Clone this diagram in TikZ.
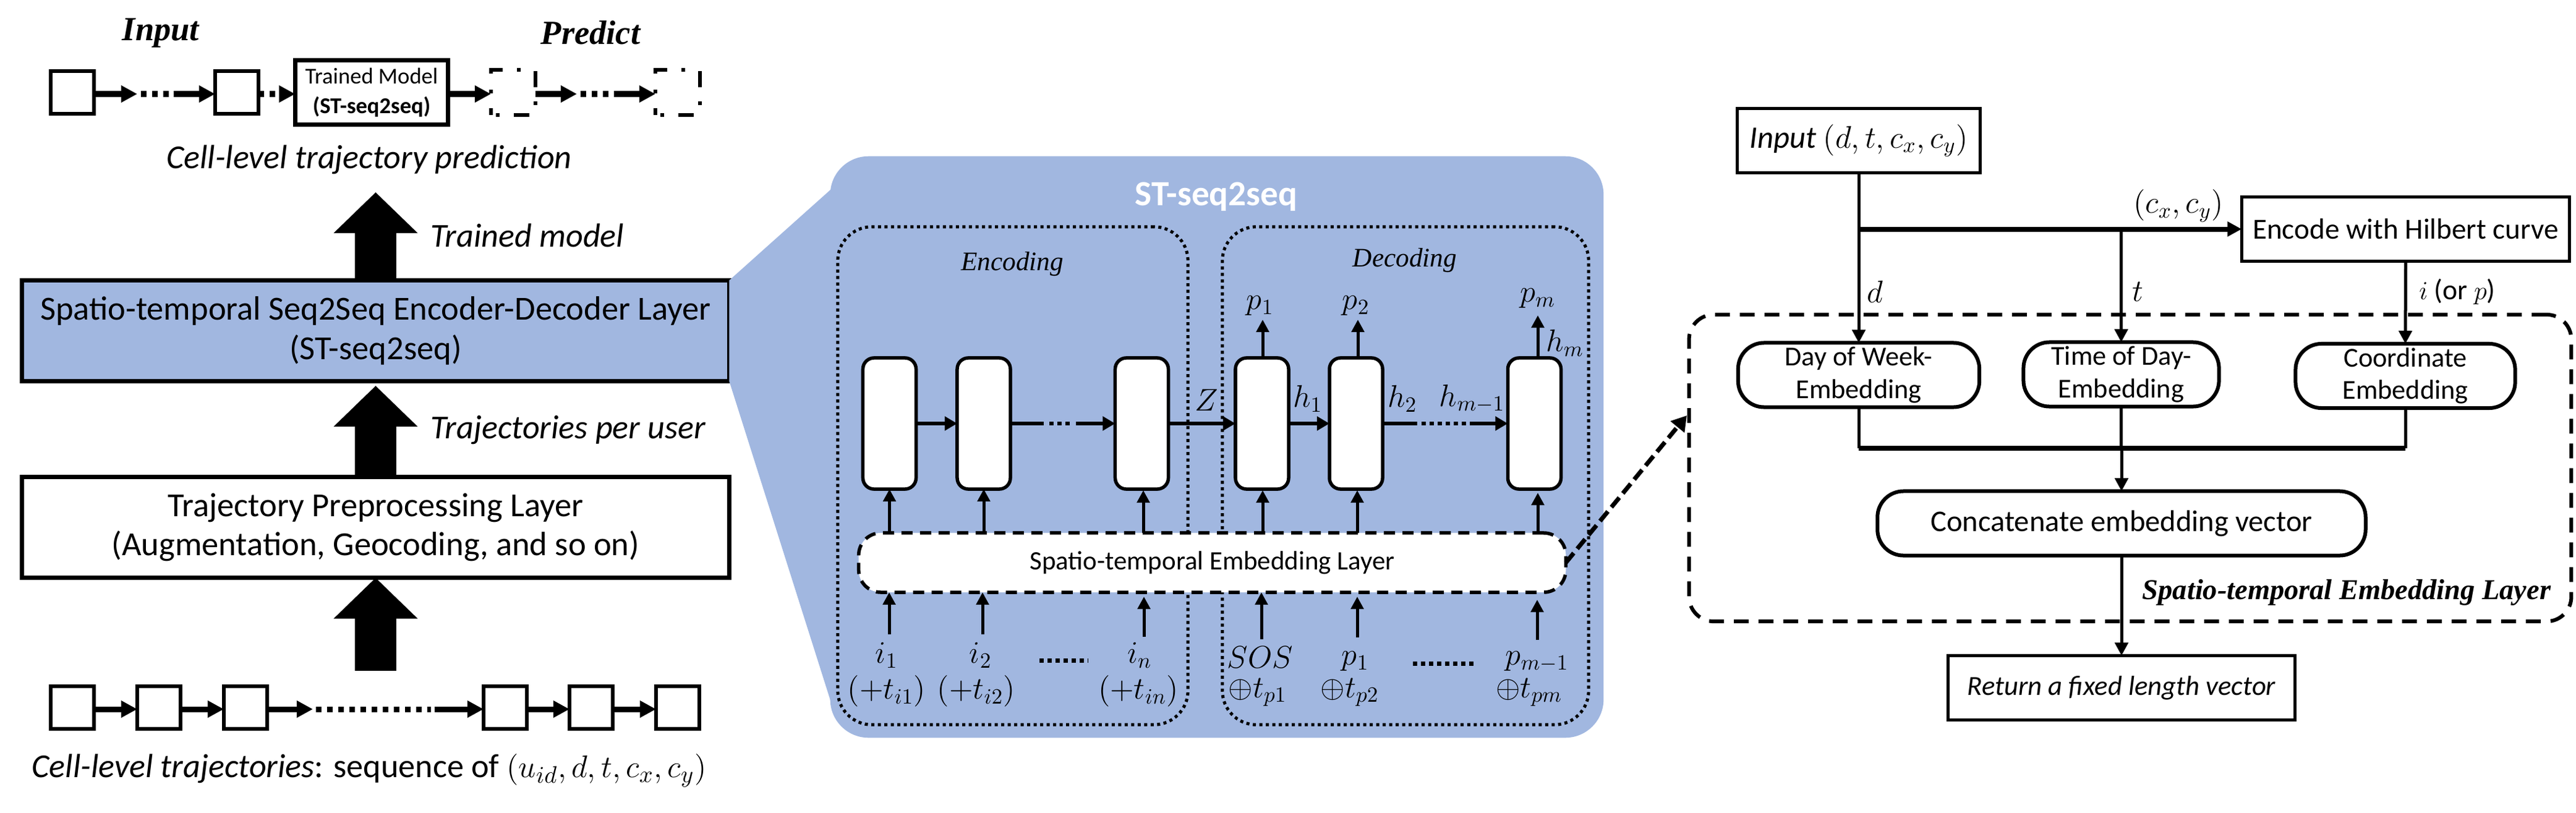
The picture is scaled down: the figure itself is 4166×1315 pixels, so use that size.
\documentclass[tikz,border=0pt]{standalone}
\usepackage{fontspec}
\setmainfont{Carlito}
\newfontfamily\tnr{Liberation Serif}
\usetikzlibrary{arrows.meta,calc}
\definecolor{pblue}{HTML}{A1B7E0}
\newcommand{\fs}[2]{\fontsize{#1pt}{#2pt}\selectfont}
\tikzset{
  every node/.style={inner sep=0pt,outer sep=0pt,align=center},
  sq/.style={draw,line width=.065cm,fill=white,minimum width=.70cm,minimum height=.69cm},
  ghost/.style={minimum width=.72cm,minimum height=.72cm},
  ghostline/.style={line width=.06cm,dash pattern=on .06cm off .23cm on .25cm off .26cm,dash phase=.72cm},
  layer/.style={draw,line width=.065cm,minimum width=11.43cm,minimum height=1.63cm,font=\fs{15.5}{18}},
  head/.style={font=\fs{15.5}{18}\tnr\bfseries\itshape},
  note/.style={font=\fs{15.4}{17}\itshape},
  bigarrow/.style={line width=.66cm,-{Triangle[length=.66cm,width=1.32cm]}},
  chain/.style={line width=.09cm,-{Triangle[length=.26cm,width=.26cm]}},
  chaindots/.style={line width=.09cm,dash pattern=on .09cm off .09cm},
  cellbox/.style={draw,line width=.055cm,fill=white,rounded corners=.18cm,minimum width=.86cm,minimum height=2.12cm},
  hop/.style={line width=.065cm,-{Triangle[length=.2cm,width=.22cm]}},
  hopplain/.style={line width=.065cm},
  hopdots/.style={line width=.065cm,dash pattern=on .07cm off .06cm},
  upa/.style={line width=.05cm,-{Triangle[length=.2cm,width=.2cm]}},
  dotbox/.style={draw,line width=.05cm,dash pattern=on .05cm off .055cm,rounded corners=.55cm},
  mathl/.style={font=\fs{14.4}{16}},
  dotsl/.style={line width=.07cm,dash pattern=on .07cm off .06cm},
  flowbox/.style={draw,line width=.055cm,fill=white,font=\fs{13.4}{15}},
  flowround/.style={draw,line width=.06cm,fill=white,rounded corners=.42cm,font=\fs{12.6}{15}},
  flow/.style={line width=.05cm,-{Triangle[length=.21cm,width=.21cm]}},
  flowline/.style={line width=.05cm},
  flowthick/.style={line width=.08cm},
  embedbox/.style={draw,line width=.055cm,fill=white,rounded corners=.36cm,dash pattern=on .18cm off .12cm,minimum width=11.43cm,minimum height=.96cm,font=\fs{12.2}{14}}
}
\begin{document}
\begin{tikzpicture}[x=.01cm,y=-.01cm]
\useasboundingbox (0,0) rectangle (4166,1315);

% ---------- left column ----------
\coordinate (r1) at (0,152);
\coordinate (r2) at (0,1147);
\node[head] (inlab) at (260,53) {Input};
\node[head] (prlab) at (955,53) {Predict};
\node[sq] (t1) at (117,149.5) {};
\node[sq] (t2) at (383,149.5) {};
\node[draw,line width=.07cm,fill=white,minimum width=2.47cm,minimum height=1.04cm,font=\fs{10.4}{13.4}] (model) at (601,149.7) {Trained Model\\\textbf{(ST-seq2seq)}};
\node[ghost] (g1) at (830,149.5) {};
\node[ghost] (g2) at (1096,149.5) {};
\draw[ghostline] (g1.south west) -- (g1.south east) -- (g1.north east) -- (g1.north west) -- cycle;
\draw[ghostline] (g2.south west) -- (g2.south east) -- (g2.north east) -- (g2.north west) -- cycle;
\coordinate (a1) at (222,152); \coordinate (a2) at (228,152); \coordinate (a3) at (274,152); \coordinate (a4) at (281,152);
\draw[chain] (t1.east |- r1) -- (a1);
\draw[chaindots] (a2) -- (a3);
\draw[chain] (a4) -- (t2.west |- r1);
\coordinate (a6) at (448,152); \coordinate (a7) at (452,152);
\draw[chaindots] (t2.east |- r1) -- (a6);
\draw[chain] (a7) -- (model.west |- r1);
\draw[chain] (model.east |- r1) -- (g1.west |- r1);
\coordinate (a8) at (933,152); \coordinate (a9) at (939,152); \coordinate (a10) at (987,152); \coordinate (a11) at (993,152);
\draw[chain] (g1.east |- r1) -- (a8);
\draw[chaindots] (a9) -- (a10);
\draw[chain] (a11) -- (g2.west |- r1);
\node[note] (pred) at (597,258) {Cell-level trajectory prediction};
\node[layer,fill=pblue] (st) at (607.5,535) {Spatio-temporal Seq2Seq Encoder-Decoder Layer\\(ST-seq2seq)};
\node[layer,fill=white] (prep) at (607.5,853) {Trajectory Preprocessing Layer\\(Augmentation, Geocoding, and so on)};
\coordinate (tip1) at (607.5,311);
\coordinate (tip2) at (607.5,624);
\coordinate (tail3) at (607.5,1085);
\draw[bigarrow] (st.north) -- (tip1);
\draw[bigarrow] (prep.north) -- (tip2);
\draw[bigarrow] (tail3) -- (prep.south);
\node[note,anchor=west] (tmod) at (696,381) {Trained model};
\node[note,anchor=west] (tuser) at (696,696) {Trajectories per user};
\node[sq] (b1) at (117,1144.5) {};
\node[sq] (b2) at (257,1144.5) {};
\node[sq] (b3) at (397,1144.5) {};
\node[sq] (b4) at (817,1144.5) {};
\node[sq] (b5) at (956,1144.5) {};
\node[sq] (b6) at (1096,1144.5) {};
\draw[chain] (b1.east |- r2) -- (b2.west |- r2);
\draw[chain] (b2.east |- r2) -- (b3.west |- r2);
\coordinate (c1) at (506,1147); \coordinate (c2) at (511,1147); \coordinate (c3) at (697,1147); \coordinate (c4) at (703,1147);
\draw[chain] (b3.east |- r2) -- (c1);
\draw[chaindots] (c2) -- (c3);
\draw[chain] (c4) -- (b4.west |- r2);
\draw[chain] (b4.east |- r2) -- (b5.west |- r2);
\draw[chain] (b5.east |- r2) -- (b6.west |- r2);
\node[font=\fs{15.4}{17}] (seq) at (597,1246) {\textit{Cell-level trajectories}: sequence of $(u_{id},d,t,c_x,c_y)$};

% ---------- ST-seq2seq panel ----------
\fill[pblue] (st.north east) -- (1343,307) -- (1343,1133) -- (st.south east) -- cycle;
\node[fill=pblue,rounded corners=.62cm,minimum width=12.50cm,minimum height=9.40cm] (panel) at (1968,723) {};
\node[font=\fs{16.3}{18}\bfseries,text=white] (ptitle) at (1967,318) {ST-seq2seq};
\node[dotbox,minimum width=5.66cm,minimum height=8.05cm] (enc) at (1638,769.5) {};
\node[dotbox,minimum width=5.92cm,minimum height=8.05cm] (dec) at (2273,769.5) {};
\node[font=\fs{12.3}{14}\tnr\itshape] (enclab) at (1637,427) {Encoding};
\node[font=\fs{12.3}{14}\tnr\itshape] (declab) at (2272,421) {Decoding};

\node[cellbox] (e1) at (1438.5,685) {};
\node[cellbox] (e2) at (1591,685) {};
\node[cellbox] (e3) at (1846.5,685) {};
\node[cellbox] (d1) at (2041,685) {};
\node[cellbox] (d2) at (2193,685) {};
\node[cellbox] (d3) at (2481.5,685) {};

\draw[hop] (e1.east) -- (e2.west);
\coordinate (f1) at (1688,685); \coordinate (f2) at (1697,685); \coordinate (f3) at (1733,685); \coordinate (f4) at (1740,685);
\draw[hopplain] (e2.east) -- (f1);
\draw[hopdots] (f2) -- (f3);
\draw[hop] (f4) -- (e3.west);
\draw[hop] (e3.east) -- (d1.west);
\draw[hop] (d1.east) -- (d2.west);
\coordinate (f5) at (2292,685); \coordinate (f6) at (2299,685); \coordinate (f7) at (2371,685); \coordinate (f8) at (2377,685);
\draw[hopplain] (d2.east) -- (f5);
\draw[hopdots] (f6) -- (f7);
\draw[hop] (f8) -- (d3.west);

\node[mathl] (lz) at (1951,647) {$Z$};
\node[mathl] (lh1) at (2115,645) {$h_1$};
\node[mathl] (lh2) at (2268,645) {$h_2$};
\node[mathl] (lhm1) at (2381,645) {$h_{m-1}$};
\node[mathl] (lhm) at (2531,555) {$h_m$};
\node[mathl] (lp1) at (2038,495) {$p_1$};
\node[mathl] (lp2) at (2193,495) {$p_2$};
\node[mathl] (lpm) at (2487,483) {$p_m$};
\coordinate (u1) at (2042,517); \coordinate (u2) at (2196,517); \coordinate (u3) at (2487,510);
\draw[upa] (u1 |- d1.north) -- (u1);
\draw[upa] (u2 |- d2.north) -- (u2);
\draw[upa] (u3 |- d3.north) -- (u3);

\node[embedbox] (embed) at (1960.5,910) {Spatio-temporal Embedding Layer};
\draw[upa] (e1.south |- embed.north) -- (e1.south);
\draw[upa] (e2.south |- embed.north) -- (e2.south);
\coordinate (v3) at (1849,793); \coordinate (v4) at (2042,793); \coordinate (v5) at (2195,793); \coordinate (v6) at (2487,797);
\draw[upa] (v3 |- embed.north) -- (v3);
\draw[upa] (v4 |- embed.north) -- (v4);
\draw[upa] (v5 |- embed.north) -- (v5);
\draw[upa] (v6 |- embed.north) -- (v6);
\coordinate (w1) at (1438,1026); \coordinate (w2) at (1589,1026); \coordinate (w3) at (1850,1030); \coordinate (w4) at (2040,1034); \coordinate (w5) at (2195,1031); \coordinate (w6) at (2486,1035);
\coordinate (x3) at (1850,965); \coordinate (x5) at (2195,965); \coordinate (x6) at (2486,970);
\draw[upa] (w1) -- (w1 |- embed.south);
\draw[upa] (w2) -- (w2 |- embed.south);
\draw[upa] (w3) -- (x3);
\draw[upa] (w4) -- (w4 |- embed.south);
\draw[upa] (w5) -- (x5);
\draw[upa] (w6) -- (x6);

\node[mathl] (i1) at (1434,1060) {$i_1$};
\node[mathl] (i2) at (1586,1060) {$i_2$};
\node[mathl] (in) at (1843,1060) {$i_n$};
\coordinate (k1) at (1681,1068); \coordinate (k2) at (1760,1068);
\draw[dotsl] (k1) -- (k2);
\node[mathl] (sos) at (2038,1063) {$SOS$};
\node[mathl] (p1) at (2192,1070) {$p_1$};
\node[mathl] (pm1) at (2486,1070) {$p_{m-1}$};
\coordinate (k3) at (2285,1073); \coordinate (k4) at (2388,1073);
\draw[dotsl] (k3) -- (k4);
\node[mathl] (ti1) at (1434,1118) {$(+t_{i1})$};
\node[mathl] (ti2) at (1579,1118) {$(+t_{i2})$};
\node[mathl] (tin) at (1841,1118) {$(+t_{in})$};
\node[mathl] (tp1) at (2034,1120) {$\oplus t_{p1}$};
\node[mathl] (tp2) at (2183,1120) {$\oplus t_{p2}$};
\node[mathl] (tpm) at (2473,1120) {$\oplus t_{pm}$};

% ---------- right flow ----------
\node[draw,line width=.06cm,dash pattern=on .24cm off .16cm,rounded corners=.4cm,minimum width=14.26cm,minimum height=4.96cm] (stlayer) at (3445,757) {};
\coordinate (zoomtip) at (2728,672);
\draw[line width=.07cm,dash pattern=on .2cm off .09cm,-{Triangle[length=.24cm,width=.28cm]}] (embed.east) -- (zoomtip);
\node[flowbox,font=\fs{14.4}{15}] (input) at (3006,227.5) [minimum width=3.93cm,minimum height=1.04cm] {\textit{Input} $(d,t,c_x,c_y)$};
\node[flowbox] (encode) at (3890.5,370.5) [minimum width=5.30cm,minimum height=1.04cm] {Encode with Hilbert curve};
\node[flowround,minimum width=3.90cm,minimum height=1.04cm] (day) at (3006,606.5) {Day of Week-\\Embedding};
\node[flowround,minimum width=3.16cm,minimum height=1.04cm] (time) at (3430.5,605.5) {Time of Day-\\Embedding};
\node[flowround,minimum width=3.55cm,minimum height=1.04cm] (coord) at (3890,608) {Coordinate\\Embedding};
\node[flowround,minimum width=7.89cm,minimum height=1.04cm,font=\fs{13.8}{15}] (concat) at (3431,846.5) {Concatenate embedding vector};
\node[flowbox,minimum width=5.61cm,minimum height=1.04cm,font=\fs{12.7}{15}\itshape] (ret) at (3431,1112.5) {Return a fixed length vector};
\coordinate (br) at (3006,370.5);
\coordinate (mb) at (3431,725);
\draw[flow] (input.south) -- (day.north);
\draw[flowthick,-{Triangle[length=.23cm,width=.23cm]}] (br) -- (encode.west);
\draw[flow] (time.north |- br) -- (time.north);
\draw[flow] (encode.south) -- (coord.north);
\draw[flowline] (day.south) -- (day.south |- mb);
\draw[flowline] (time.south) -- (time.south |- mb);
\draw[flowline] (coord.south) -- (coord.south |- mb);
\draw[flowthick] (day.south |- mb) -- (coord.south |- mb);
\draw[flow] (mb) -- (concat.north);
\draw[flow] (concat.south) -- (ret.north);
\node[font=\fs{14.4}{16}] (lcc) at (3523,333) {$(c_x,c_y)$};
\node[font=\fs{14.4}{16}] (ld) at (3032,472) {$d$};
\node[font=\fs{14.4}{16}] (lt) at (3457,472) {$t$};
\node[font=\fs{13}{16}] (lip) at (3974,472) {$i$ (or $p$)};
\node[font=\fs{13.2}{16}\tnr\bfseries\itshape] (stlab) at (3795,958) {Spatio-temporal Embedding Layer};
\end{tikzpicture}
\end{document}
